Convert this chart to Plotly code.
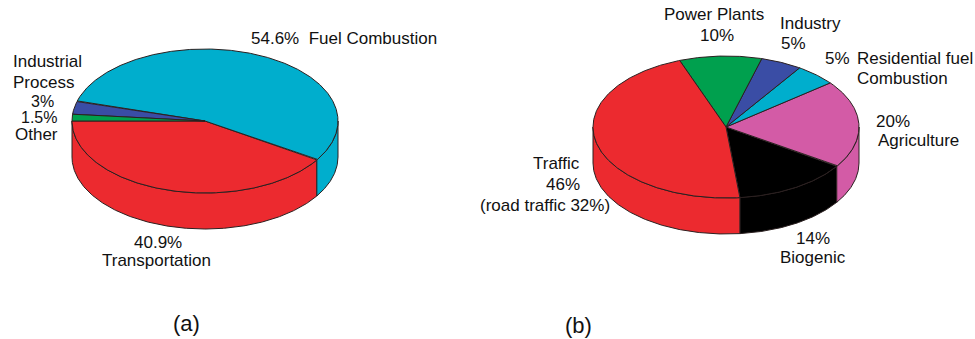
import numpy as np
import plotly.graph_objects as go

# ---- data -------------------------------------------------------------
a_labels = ["Transportation", "Fuel Combustion", "Industrial Process", "Other"]
a_values = [40.9, 54.6, 3.0, 1.5]
a_colors = ["#EC2A2F", "#00AECD", "#3A4DA5", "#00A04E"]

b_labels = ["Biogenic", "Agriculture", "Residential fuel Combustion",
            "Industry", "Power Plants", "Traffic"]
b_values = [14, 20, 5, 5, 10, 46]
b_colors = ["#000000", "#D35BA6", "#00AECD", "#3A4DA5", "#00A04E", "#EC2A2F"]

# ---- geometry of the two tilted pies (page pixels) ---------------------
PIE_A = dict(cx=205, cy=121, rx=133, ry=72, depth=36, start=180)
PIE_B = dict(cx=726, cy=127, rx=133, ry=71, depth=36, start=-84)
EDGE = "#2b2020"
FONT = "Liberation Sans, Arial, sans-serif"

fig = go.Figure()


def ellipse_pts(p, t0, t1, dy=0.0, n=None):
    n = n or max(4, int(abs(t1 - t0) * 2))
    t = np.radians(np.linspace(t0, t1, n))
    return p["cx"] + p["rx"] * np.cos(t), p["cy"] - p["ry"] * np.sin(t) + dy


def front_part(t0, t1):
    """Pieces of [t0, t1] (degrees) lying in the front half (180..360 mod 360)."""
    parts = []
    for k in range(-2, 3):
        lo, hi = 180 + 360 * k, 360 + 360 * k
        s, e = max(t0, lo), min(t1, hi)
        if e > s:
            parts.append((s, e))
    return parts


def draw_pie(p, values, colors, names):
    total = float(sum(values))
    bounds = [p["start"]]
    for v in values:
        bounds.append(bounds[-1] + 360.0 * v / total)
    # side walls first
    for i, col in enumerate(colors):
        for s, e in front_part(bounds[i], bounds[i + 1]):
            xt, yt = ellipse_pts(p, s, e)
            xb, yb = ellipse_pts(p, e, s, dy=p["depth"])
            fig.add_trace(go.Scatter(
                x=np.r_[xt, xb, xt[:1]], y=np.r_[yt, yb, yt[:1]],
                mode="lines", fill="toself", fillcolor=col,
                line=dict(color=EDGE, width=1), hoverinfo="skip",
                showlegend=False))
    # top faces
    for i, col in enumerate(colors):
        xe, ye = ellipse_pts(p, bounds[i], bounds[i + 1])
        fig.add_trace(go.Scatter(
            x=np.r_[p["cx"], xe, p["cx"]], y=np.r_[p["cy"], ye, p["cy"]],
            mode="lines", fill="toself", fillcolor=col,
            line=dict(color=EDGE, width=1), name=names[i],
            hovertemplate=f"{names[i]}: {values[i]}%<extra></extra>",
            showlegend=False))


draw_pie(PIE_A, a_values, a_colors, a_labels)
draw_pie(PIE_B, b_values, b_colors, b_labels)


def label(text, x, y, xanchor="center", size=17):
    fig.add_annotation(x=x, y=y, text=text, showarrow=False, xref="x", yref="y",
                       xanchor=xanchor, yanchor="middle", borderpad=0,
                       font=dict(family=FONT, size=size, color="#111"))


# pie (a) labels
label(f"{a_values[1]}%&nbsp;&nbsp;{a_labels[1]}", 250, 38, "left")
label("Industrial", 12, 61, "left")
label("Process", 12, 82, "left")
label(f"{a_values[2]:g}%", 42, 101, size=16)
label(f"{a_values[3]}%", 39, 117, size=16)
label(a_labels[3], 36, 134)
label(f"{a_values[0]}%", 158, 242)
label(a_labels[0], 156, 260)

# pie (b) labels
label(b_labels[4], 714, 14)
label(f"{b_values[4]}%", 717, 35)
label(b_labels[3], 779, 23, "left")
label(f"{b_values[3]}%", 793, 43)
label(f"{b_values[2]}%", 824, 58, "left")
label("Residential fuel", 856, 58, "left")
label("Combustion", 856, 78, "left")
label(f"{b_values[1]}%", 875, 121, "left")
label(b_labels[1], 877, 140, "left")
label(b_labels[5], 556, 163)
label(f"{b_values[5]}%", 563, 184)
label("(road traffic 32%)", 545, 205)
label(f"{b_values[0]}%", 813, 238)
label(b_labels[0], 813, 257)

# panel tags
label("(a)", 186, 323, size=22)
label("(b)", 578, 325, size=22)

fig.update_layout(
    width=975, height=339,
    margin=dict(l=0, r=0, t=0, b=0),
    paper_bgcolor="white", plot_bgcolor="white",
    xaxis=dict(range=[0, 975], visible=False, fixedrange=True),
    yaxis=dict(range=[339, 0], visible=False, fixedrange=True),
)

fig.write_html("out.html")
